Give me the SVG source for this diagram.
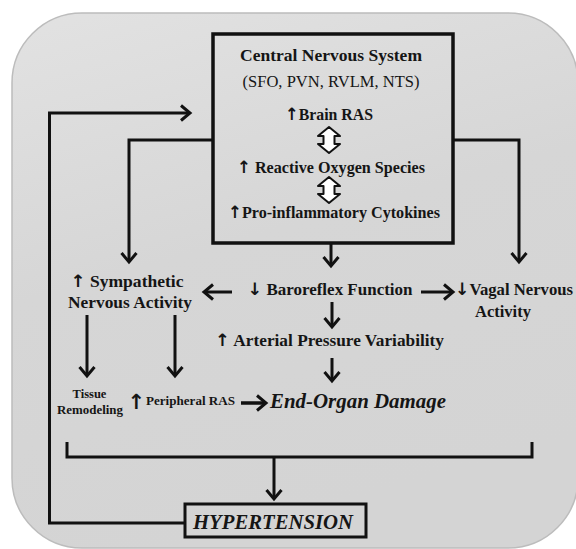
<svg xmlns="http://www.w3.org/2000/svg" width="576" height="549" viewBox="0 0 576 549">
<defs>
<linearGradient id="bg" x1="0" y1="0" x2="0.3" y2="1">
<stop offset="0" stop-color="#e2e2e2"/>
<stop offset="0.5" stop-color="#d6d6d6"/>
<stop offset="1" stop-color="#d4d4d4"/>
</linearGradient>
<marker id="ah" markerUnits="userSpaceOnUse" markerWidth="24" markerHeight="24" viewBox="-12 -12 24 24" refX="0" refY="0" orient="auto">
<path d="M-9,-7.5 L0,0 L-9,7.5" fill="none" stroke="#111" stroke-width="3"/>
</marker>
<style>
.ln{fill:none;stroke:#111;stroke-width:3}
.ar{fill:none;stroke:#111;stroke-width:3;marker-end:url(#ah)}
.t{font-family:"Liberation Serif","Times New Roman",serif;font-weight:bold;fill:#151515}
.r{font-family:"Liberation Serif","Times New Roman",serif;fill:#151515}
.bi{font-family:"Liberation Serif","Times New Roman",serif;font-weight:bold;font-style:italic;fill:#151515}
.a{font-family:"DejaVu Sans",sans-serif;font-weight:bold;font-size:17px}
.dbl{fill:#fff;stroke:#111;stroke-width:2;stroke-linejoin:round}
</style>
</defs>
<rect x="12" y="13" width="566" height="535" rx="70" ry="70" fill="url(#bg)" stroke="#bcbcbc" stroke-width="1.5"/>

<g id="connectors">
<polyline class="ar" points="185,523 49.5,523 49.5,113 190,113"/>
<polyline class="ar" points="213,140 129,140 129,262"/>
<polyline class="ar" points="453,140 519,140 519,262"/>
<line class="ar" x1="331" y1="243" x2="331" y2="266"/>
<line class="ar" x1="232" y1="292" x2="204" y2="292"/>
<line class="ar" x1="421" y1="292" x2="453" y2="292"/>
<line class="ar" x1="332" y1="302" x2="332" y2="327"/>
<line class="ar" x1="332" y1="358" x2="332" y2="381"/>
<line class="ar" x1="87" y1="315" x2="87" y2="376"/>
<line class="ar" x1="175" y1="315" x2="175" y2="376"/>
<line class="ar" x1="241" y1="403" x2="266" y2="403" style="stroke-width:3.5"/>
<polyline class="ln" points="67,442 67,457 532,457 532,442"/>
<line class="ar" x1="274" y1="457" x2="274" y2="499"/>
</g>

<g id="cns">
<rect x="213" y="34" width="240" height="209" fill="none" stroke="#111" stroke-width="3.5"/>
<text class="t" x="331" y="61" font-size="17.5" text-anchor="middle" textLength="182" lengthAdjust="spacingAndGlyphs">Central Nervous System</text>
<text class="r" x="331" y="87" font-size="16.4" text-anchor="middle" textLength="177" lengthAdjust="spacingAndGlyphs">(SFO, PVN, RVLM, NTS)</text>
<text class="t" x="329" y="120" font-size="16.5" text-anchor="middle" textLength="88" lengthAdjust="spacingAndGlyphs"><tspan class="a">↑</tspan>Brain RAS</text>
<path class="dbl" d="M329,127 L340,136 L334.5,136 L334.5,144 L340,144 L329,153 L318,144 L323.5,144 L323.5,136 L318,136 Z"/>
<text class="t" x="331" y="173" font-size="16.5" text-anchor="middle" textLength="188" lengthAdjust="spacingAndGlyphs"><tspan class="a">↑</tspan> Reactive Oxygen Species</text>
<path class="dbl" d="M329,177 L340,186 L334.5,186 L334.5,194 L340,194 L329,203 L318,194 L323.5,194 L323.5,186 L318,186 Z"/>
<text class="t" x="334" y="218" font-size="16.5" text-anchor="middle" textLength="212" lengthAdjust="spacingAndGlyphs"><tspan class="a">↑</tspan>Pro-inflammatory Cytokines</text>
</g>

<g id="sympathetic">
<text class="t" x="127" y="287" font-size="16.5" text-anchor="middle" textLength="113" lengthAdjust="spacingAndGlyphs"><tspan class="a">↑</tspan> Sympathetic</text>
<text class="t" x="130" y="308" font-size="16.5" text-anchor="middle" textLength="124" lengthAdjust="spacingAndGlyphs">Nervous Activity</text>
</g>

<g id="baroreflex">
<text class="t" x="330" y="295" font-size="16.5" text-anchor="middle" textLength="165" lengthAdjust="spacingAndGlyphs"><tspan class="a">↓</tspan> Baroreflex Function</text>
</g>

<g id="vagal">
<text class="t" x="514" y="295" font-size="16.5" text-anchor="middle" textLength="118" lengthAdjust="spacingAndGlyphs"><tspan class="a">↓</tspan>Vagal Nervous</text>
<text class="t" x="503" y="317" font-size="16.5" text-anchor="middle">Activity</text>
</g>

<g id="arterial">
<text class="t" x="329.5" y="346" font-size="16.5" text-anchor="middle" textLength="229" lengthAdjust="spacingAndGlyphs"><tspan class="a">↑</tspan> Arterial Pressure Variability</text>
</g>

<g id="tissue">
<text class="t" x="89.5" y="398" font-size="12.5" text-anchor="middle">Tissue</text>
<text class="t" x="90" y="414" font-size="12.5" text-anchor="middle" textLength="66" lengthAdjust="spacingAndGlyphs">Remodeling</text>
</g>

<g id="peripheral">
<text class="t" x="127.5" y="409" font-size="18"><tspan class="a" style="font-size:21px">↑</tspan></text>
<text class="t" x="146" y="405" font-size="13" textLength="89" lengthAdjust="spacingAndGlyphs">Peripheral RAS</text>
</g>

<g id="endorgan">
<text class="bi" x="270" y="408" font-size="21" textLength="176" lengthAdjust="spacingAndGlyphs">End-Organ Damage</text>
</g>

<g id="hypertension">
<rect x="185" y="504" width="181" height="33" fill="none" stroke="#111" stroke-width="3"/>
<text class="bi" x="193" y="529" font-size="20.7" textLength="160" lengthAdjust="spacingAndGlyphs">HYPERTENSION</text>
</g>
</svg>
